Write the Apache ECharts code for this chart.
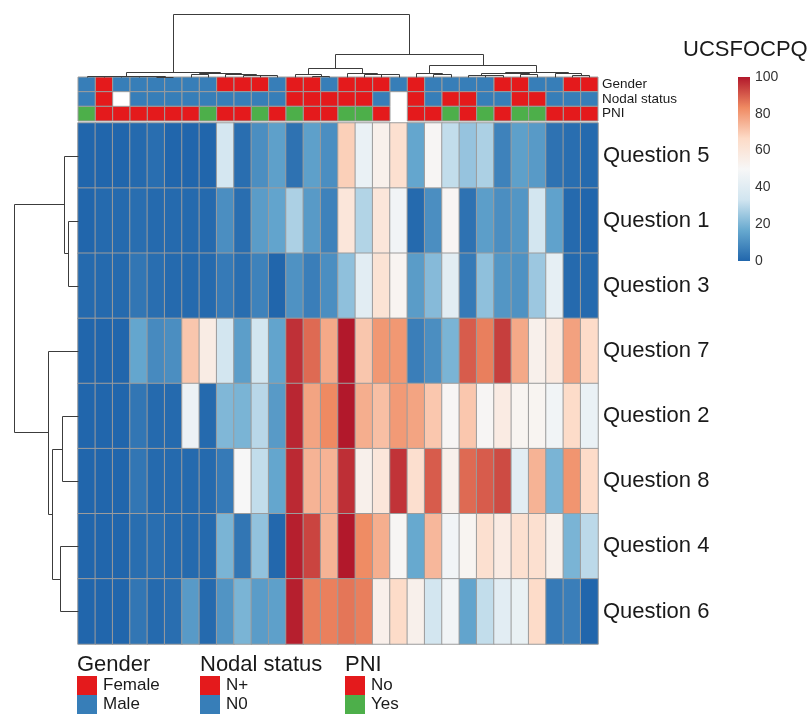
<!DOCTYPE html>
<html><head><meta charset="utf-8">
<script src="https://cdn.jsdelivr.net/npm/echarts@6/dist/echarts.min.js"></script>
<style>html,body{margin:0;padding:0;background:#fff}#c{width:808px;height:717px}</style>
</head><body><div id="c"></div>
<script>
// ---------------- data ----------------
const questions = ['Question 5','Question 1','Question 3','Question 7','Question 2','Question 8','Question 4','Question 6'];
const q5 = [0,0,0,1,2,0,0,0,35,2,10,14.5,3,14.5,10,69,44.5,54,63.5,16,51,31,24,27.5,7,14.5,13,3,2,1];
const q1 = [0,1,1,2,1,1,1,1,10,2,13.5,15.5,27.5,13,7,60,28.5,60,47.5,1,10,51.5,3,14,10,12,34,15,1,0];
const q3 = [1,1,1,4,2,1,1,1,5,2,7,0,11,6,10,23,41,62,52,13.5,21.5,41,5,23,12,11,25,42.5,1,1];
const q7 = [0,0,0,16,9,10,71,56.5,34,14,34,15.5,96.5,88,77,100,71,80.5,80.5,6,10,19.7,90,85,94.4,77,54,58.5,78.5,66];
const q2 = [0,0,0,4,1,1,45.5,1,20.6,19.7,29.5,13,98,78,83.3,100,76,72.5,80,78,70.8,51,70.8,51,57,52,52,47.5,66,44.5];
const q8 = [0,0,0,4,1,1,1,1,5,50,31,16,97.5,75,75,96.7,54,60,96,64,90,54,88,90,92.6,41,75,19.7,81,66];
const q4 = [0,0,0,2,2,1,1,1,19.7,4,23.5,0.5,99,93.5,75,100,83,76,51,16.7,74,47.5,52,63.5,57,63.5,63.5,54,19.7,30];
const q6 = [0,0,0,4,1,2,13,1,11.5,19.7,13.5,14.5,99,85,84.8,86.3,85,54.5,66,54,34,47.5,15.5,31,41,44,66,5,6,0];

const annotNames = ['Gender','Nodal status','PNI'];
const gender = ['Male','Female','Male','Male','Male','Male','Male','Male','Female','Female','Female','Male','Female','Female','Male','Female','Female','Female','Male','Female','Male','Male','Male','Male','Female','Female','Male','Male','Female','Female'];
const nodal = ['N0','N+',null,'N0','N0','N0','N0','N0','N0','N0','N0','N0','N+','N+','N+','N+','N+','N0',null,'N+','N0','N+','N+','N0','N0','N+','N+','N0','N0','N0'];
const pni = ['Yes','No','No','No','No','No','No','Yes','No','No','Yes','No','Yes','No','No','Yes','Yes','No',null,'No','No','Yes','No','Yes','No','Yes','Yes','No','No','No'];
const genderLevels = ['Female','Male'];
const nodalLevels = ['N+','N0'];
const pniLevels = ['No','Yes'];

const colorTicks = [0,20,40,60,80,100];
const scaleTitle = 'UCSFOCPQ';

// column dendrogram merges: [nodeA, nodeB, height]; leaves 0..29, new nodes numbered from 30
const colMerges = [
  [1,2,0.6],[0,30,0.9],[4,5,0.5],[3,32,0.8],[31,33,1.3],
  [6,7,2.6],[10,11,2.0],[9,36,2.1],[8,37,2.8],[35,38,4.4],[34,39,5.5],
  [13,14,1.5],[12,41,2.6],[17,18,2.6],[16,43,2.8],[15,44,4.0],[42,45,8.9],
  [20,21,3.5],[19,47,3.7],[23,24,1.6],[22,49,2.1],[25,26,2.9],[50,51,3.8],
  [28,29,1.8],[27,53,4.3],[52,54,5.3],[48,55,11.6],[46,56,23.5],[40,57,63]
];
// row dendrogram merges: leaves 0..7 (rows in display order), new nodes from 8
const rowMerges = [
  [1,2,10],[0,8,14.4],[4,5,16],[6,7,18],[10,11,26.4],[3,12,30],[9,13,64.4]
];

// ---------------- styles ----------------
const RD_BU = ['#2166AC','#67A9CF','#D1E5F0','#F7F7F7','#FDDBC7','#EF8A62','#B2182B'];
const annotColors = [
  {'Female':'#E41A1C','Male':'#377EB8'},
  {'N+':'#E41A1C','N0':'#377EB8'},
  {'No':'#E41A1C','Yes':'#4DAF4A'}
];
const FONT = 'Liberation Sans, Arial, sans-serif';
const CELL_BORDER = '#9c9c9c';
const DENDRO = '#3c3c3c';

// ---------------- build ----------------
const rows = [q5,q1,q3,q7,q2,q8,q4,q6];
const nCols = q5.length;
const colIds = Array.from({length:nCols}, (_, i) => 'S' + (i+1));
const heatData = [];
rows.forEach((row, r) => row.forEach((v, c) => heatData.push([c, r, v])));

const annotRows = [gender, nodal, pni];
const annotData = [];
annotRows.forEach((row, r) => row.forEach((v, c) => { if (v) annotData.push([c, r, annotColors[r][v]]); }));

function buildDendro(merges, nLeaves) {
  const pos = [], hgt = [], segs = [];
  for (let i = 0; i < nLeaves; i++) { pos.push(i + 0.5); hgt.push(0); }
  merges.forEach(([a, b, h]) => {
    segs.push([pos[a], hgt[a], pos[b], hgt[b], h]);
    pos.push((pos[a] + pos[b]) / 2); hgt.push(h);
  });
  return segs;
}
const colSegs = buildDendro(colMerges, nCols);
const rowSegs = buildDendro(rowMerges, questions.length);
const crisp = p => [Math.round(p[0]) + 0.5, Math.round(p[1]) + 0.5];

const chart = echarts.init(document.getElementById('c'), null, {renderer:'canvas'});

const legendDefs = [
  {title:'Gender', levels:genderLevels, colors:annotColors[0], x:77},
  {title:'Nodal status', levels:nodalLevels, colors:annotColors[1], x:200},
  {title:'PNI', levels:pniLevels, colors:annotColors[2], x:345}
];
const graphics = [{
  type:'text', left:683, top:39,
  style:{text:scaleTitle, font:'22px ' + FONT, fill:'#1a1a1a'}
}];
legendDefs.forEach(g => {
  graphics.push({type:'text', x:g.x, y:664.5, style:{text:g.title, font:'22px ' + FONT, fill:'#1a1a1a', verticalAlign:'middle'}});
  g.levels.forEach((lv, i) => {
    graphics.push({type:'rect', shape:{x:g.x, y:676 + i*19, width:20, height:19}, style:{fill:g.colors[lv]}});
    graphics.push({type:'text', x:g.x + 26, y:685.5 + i*19, style:{text:lv, font:'17px ' + FONT, fill:'#1a1a1a', verticalAlign:'middle'}});
  });
});

const option = {
  animation:false,
  backgroundColor:'#fff',
  textStyle:{fontFamily:FONT},
  grid:[
    {left:78, top:123, width:520, height:521},
    {left:78, top:77, width:520, height:44},
    {left:78, top:14, width:520, height:63},
    {left:13, top:123, width:65, height:521},
    {left:738, top:77, width:12, height:184}
  ],
  xAxis:[
    {gridIndex:0, type:'category', data:colIds, show:false},
    {gridIndex:1, type:'category', data:colIds, show:false},
    {gridIndex:2, type:'value', min:0, max:nCols, show:false},
    {gridIndex:3, type:'value', min:0, max:65, inverse:true, show:false},
    {gridIndex:4, type:'category', data:['scale'], show:false}
  ],
  yAxis:[
    {gridIndex:0, type:'category', data:questions, inverse:true, position:'right',
     axisLine:{show:false}, axisTick:{show:false}, splitLine:{show:false},
     axisLabel:{fontSize:22, color:'#1a1a1a', margin:5, interval:0, fontFamily:FONT}},
    {gridIndex:1, type:'category', data:annotNames, inverse:true, position:'right',
     axisLine:{show:false}, axisTick:{show:false}, splitLine:{show:false},
     axisLabel:{fontSize:13.5, color:'#1a1a1a', margin:4, interval:0, hideOverlap:false, fontFamily:FONT}},
    {gridIndex:2, type:'value', min:0, max:63, show:false},
    {gridIndex:3, type:'value', min:0, max:questions.length, inverse:true, show:false},
    {gridIndex:4, type:'value', min:colorTicks[0], max:colorTicks[colorTicks.length-1], interval:20, position:'right',
     axisLine:{show:false}, axisTick:{show:false}, splitLine:{show:false},
     axisLabel:{fontSize:14, color:'#333', margin:5, fontFamily:FONT}}
  ],
  visualMap:{show:false, min:0, max:100, seriesIndex:0, dimension:2, inRange:{color:RD_BU}},
  series:[
    {type:'heatmap', xAxisIndex:0, yAxisIndex:0, data:heatData,
     itemStyle:{borderColor:CELL_BORDER, borderWidth:1}, emphasis:{disabled:true}, silent:true},
    {type:'custom', xAxisIndex:1, yAxisIndex:1, data:annotData.map(d => [d[0], d[1]]), silent:true,
     renderItem:(params, api) => {
       const c = api.coord([api.value(0), api.value(1)]);
       const s = api.size([1, 1]);
       return {type:'rect', shape:{x:c[0]-s[0]/2, y:c[1]-s[1]/2, width:s[0], height:s[1]},
               style:{fill:annotData[params.dataIndex][2], stroke:CELL_BORDER, lineWidth:1}};
     }},
    {type:'custom', xAxisIndex:2, yAxisIndex:2, data:colSegs, silent:true,
     renderItem:(params, api) => {
       const [xa, ha, xb, hb, h] = [0,1,2,3,4].map(i => api.value(i));
       const pts = [[xa,ha],[xa,h],[xb,h],[xb,hb]].map(p => crisp(api.coord(p)));
       return {type:'polyline', shape:{points:pts}, style:{stroke:DENDRO, lineWidth:1, fill:null}};
     }},
    {type:'custom', xAxisIndex:3, yAxisIndex:3, data:rowSegs, silent:true,
     renderItem:(params, api) => {
       const [ya, ha, yb, hb, h] = [0,1,2,3,4].map(i => api.value(i));
       const pts = [[ha,ya],[h,ya],[h,yb],[hb,yb]].map(p => crisp(api.coord(p)));
       return {type:'polyline', shape:{points:pts}, style:{stroke:DENDRO, lineWidth:1, fill:null}};
     }},
    {type:'bar', xAxisIndex:4, yAxisIndex:4, data:[colorTicks[colorTicks.length-1]], barWidth:'100%', silent:true,
     itemStyle:{color:new echarts.graphic.LinearGradient(0,1,0,0, RD_BU.map((c,i) => ({offset:i/(RD_BU.length-1), color:c})))}}
  ],
  graphic:graphics
};
chart.setOption(option);
</script></body></html>
